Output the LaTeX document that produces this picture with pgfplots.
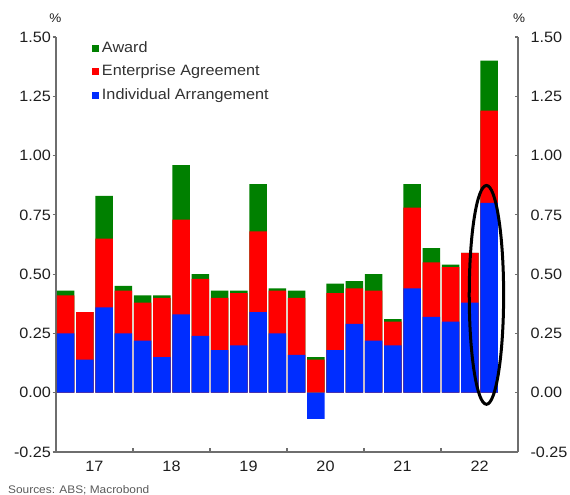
\documentclass[border=0pt]{standalone}
\usepackage{fontspec}
\setmainfont[FakeStretch=1.08]{Liberation Sans}
\usepackage{pgfplots}
\usepackage{pgfplotstable}
\pgfplotsset{compat=1.18}
\definecolor{cgreen}{RGB}{0,128,0}
\definecolor{cred}{RGB}{255,0,0}
\definecolor{cblue}{RGB}{0,45,255}
\definecolor{axgray}{RGB}{110,110,110}
\definecolor{txt}{RGB}{30,30,30}
\definecolor{legtxt}{RGB}{50,50,50}
\definecolor{srcgray}{RGB}{90,90,90}

% columns: index, top of Individual Arrangement, top of Enterprise Agreement, top of Award (cumulative)
\pgfplotstableread{
i  blue   red   green
0  0.25   0.41  0.43
1  0.14   0.34  0.34
2  0.36   0.65  0.83
3  0.25   0.43  0.45
4  0.22   0.38  0.41
5  0.15   0.40  0.41
6  0.33   0.73  0.96
7  0.24   0.48  0.50
8  0.18   0.40  0.43
9  0.20   0.42  0.43
10 0.34   0.68  0.88
11 0.25   0.43  0.44
12 0.16   0.40  0.43
13 -0.11  0.14  0.15
14 0.18   0.42  0.46
15 0.29   0.44  0.47
16 0.22   0.43  0.50
17 0.20   0.30  0.31
18 0.44   0.78  0.88
19 0.32   0.55  0.61
20 0.30   0.53  0.54
21 0.38   0.59  0.59
22 0.80   1.19  1.40
}\datatable

\pgfplotsset{
  common/.style={
    at={(56bp,43bp)}, anchor=south west,
    scale only axis, width=462bp, height=415bp,
    xmin=-0.5, xmax=23.5, ymin=-0.25, ymax=1.5,
    ytick={-0.25,0,0.25,0.5,0.75,1,1.25,1.5},
    yticklabels={-0.25,0.00,0.25,0.50,0.75,1.00,1.25,1.50},
    axis line style={-, draw=axgray, line width=1.4bp},
    tick style={draw=axgray, line width=1.1bp},
    major tick length=3.5bp,
    ticklabel style={font=\fontsize{15bp}{18bp}\selectfont, text=txt},
  },
  sq/.style={legend image code/.code={\fill[fill=#1] (0bp,-3.5bp) rectangle (7bp,3.5bp);}},
}

\begin{document}
\begin{tikzpicture}[x=1bp,y=1bp]
\path[use as bounding box] (0,0) rectangle (570,495);

\begin{axis}[common,
  ybar, bar width=0.9,
  axis x line*=bottom, axis y line*=left,
  tick align=outside,
  xtick={1.5,5.5,9.5,13.5,17.5,21.5},
  xticklabels={17,18,19,20,21,22},
  x tick style={draw=none},
  xticklabel style={yshift=-2bp},
  yticklabel style={xshift=2bp},
  legend style={at={(0.071,0.995)}, anchor=north west, draw=none, fill=none,
    font=\fontsize{15bp}{18bp}\selectfont, text=legtxt,
    nodes={inner sep=0pt, text height=11bp, text depth=3bp},
    row sep=9.5bp,
    /tikz/every odd column/.append style={column sep=3bp}},
  legend cell align=left,
]
\addplot[fill=cgreen, draw=none, bar shift=0pt, sq=cgreen] table[x=i, y=green] {\datatable};
\addlegendentry{Award}
\addplot[fill=cred, draw=none, bar shift=0pt, sq=cred] table[x=i, y=red] {\datatable};
\addlegendentry{Enterprise Agreement}
\addplot[fill=cblue, draw=none, bar shift=0pt, sq=cblue] table[x=i, y=blue] {\datatable};
\addlegendentry{Individual Arrangement}
\draw[black, line width=3bp] (axis cs:21.86,0.4125) ellipse [x radius=17.2bp, y radius=109.4bp];
\end{axis}

\begin{axis}[common,
  axis x line*=bottom, axis y line*=right,
  tick align=inside,
  xtick={3.5,7.5,11.5,15.5,19.5},
  xticklabels={},
  yticklabel style={xshift=9bp},
]
\end{axis}

\node[font=\fontsize{12.5bp}{15bp}\selectfont, text=txt] at (55.5,477) {\%};
\node[font=\fontsize{12.5bp}{15bp}\selectfont, text=txt] at (519,477) {\%};
\node[anchor=west, font=\fontsize{11bp}{13bp}\selectfont, text=srcgray, inner sep=0pt] at (8,5) {Sources: ABS; Macrobond};
\end{tikzpicture}
\end{document}
